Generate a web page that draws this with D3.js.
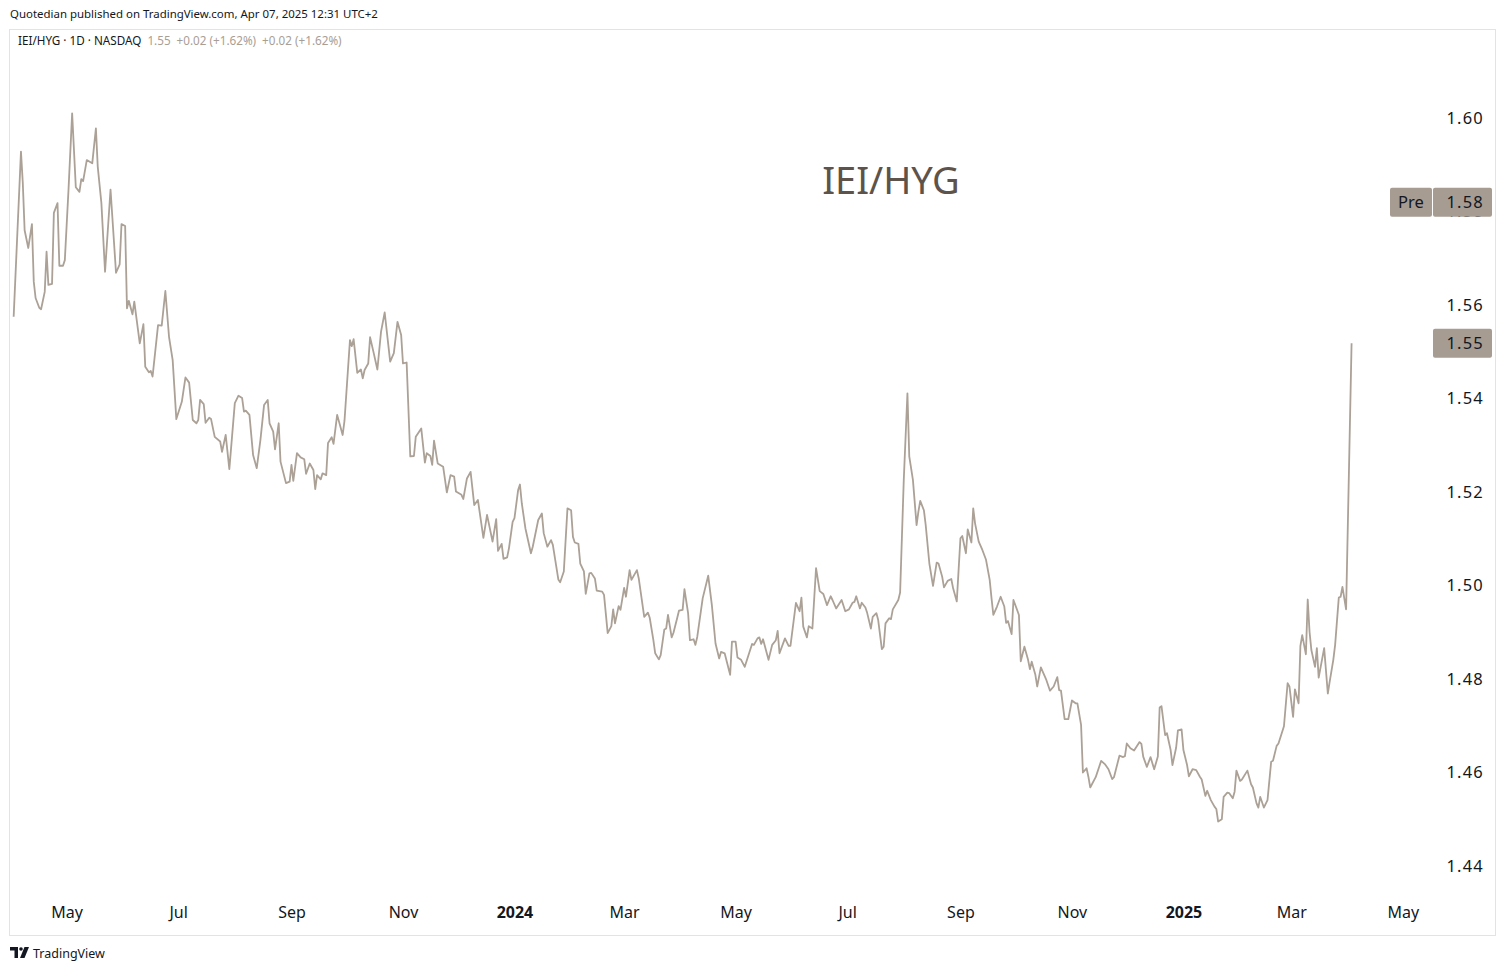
<!DOCTYPE html>
<html><head><meta charset="utf-8">
<script src="https://cdn.jsdelivr.net/npm/d3@7"></script>
<style>
html,body{margin:0;padding:0;background:#fff;}
svg{display:block;font-family:"Noto Sans","Open Sans",sans-serif;}
</style></head><body>
<svg id="c" width="1506" height="971"></svg>
<script>
const series = [
["2023-04-02",1.5575],["2023-04-06",1.5928],["2023-04-07",1.5861],["2023-04-08",1.5760],["2023-04-10",1.5722],["2023-04-12",1.5773],["2023-04-13",1.5650],["2023-04-14",1.5615],["2023-04-16",1.5594],["2023-04-17",1.5591],["2023-04-19",1.5628],["2023-04-20",1.5714],["2023-04-21",1.5643],["2023-04-23",1.5645],["2023-04-24",1.5797],["2023-04-26",1.5818],["2023-04-27",1.5684],["2023-04-29",1.5684],["2023-04-30",1.5696],
["2023-05-02",1.5846],["2023-05-04",1.6010],["2023-05-06",1.5852],["2023-05-08",1.5842],["2023-05-09",1.5869],["2023-05-10",1.5865],["2023-05-12",1.5910],["2023-05-15",1.5903],["2023-05-17",1.5978],["2023-05-18",1.5896],["2023-05-20",1.5818],["2023-05-22",1.5671],["2023-05-25",1.5847],["2023-05-28",1.5669],["2023-05-30",1.5687],["2023-05-31",1.5773],
["2023-06-02",1.5769],["2023-06-03",1.5593],["2023-06-04",1.5609],["2023-06-06",1.5580],["2023-06-07",1.5607],["2023-06-10",1.5518],["2023-06-12",1.5559],["2023-06-13",1.5468],["2023-06-15",1.5456],["2023-06-16",1.5459],["2023-06-17",1.5447],["2023-06-20",1.5557],["2023-06-22",1.5556],["2023-06-24",1.5630],["2023-06-26",1.5532],["2023-06-28",1.5482],["2023-06-30",1.5356],
["2023-07-03",1.5393],["2023-07-05",1.5445],["2023-07-07",1.5434],["2023-07-09",1.5354],["2023-07-11",1.5347],["2023-07-12",1.5354],["2023-07-13",1.5397],["2023-07-15",1.5388],["2023-07-16",1.5348],["2023-07-18",1.5359],["2023-07-19",1.5356],["2023-07-21",1.5318],["2023-07-24",1.5308],["2023-07-25",1.5286],["2023-07-27",1.5322],["2023-07-29",1.5249],
["2023-08-01",1.5390],["2023-08-03",1.5406],["2023-08-05",1.5401],["2023-08-06",1.5372],["2023-08-07",1.5374],["2023-08-09",1.5365],["2023-08-11",1.5279],["2023-08-13",1.5251],["2023-08-15",1.5311],["2023-08-17",1.5386],["2023-08-19",1.5397],["2023-08-20",1.5347],["2023-08-22",1.5329],["2023-08-23",1.5291],["2023-08-25",1.5347],["2023-08-26",1.5265],["2023-08-29",1.5219],["2023-08-31",1.5222],
["2023-09-01",1.5258],["2023-09-02",1.5224],["2023-09-04",1.5283],["2023-09-06",1.5274],["2023-09-08",1.5270],["2023-09-09",1.5239],["2023-09-11",1.5261],["2023-09-13",1.5247],["2023-09-14",1.5206],["2023-09-15",1.5236],["2023-09-17",1.5227],["2023-09-18",1.5240],["2023-09-20",1.5236],["2023-09-21",1.5305],["2023-09-23",1.5317],["2023-09-24",1.5303],["2023-09-26",1.5365],["2023-09-29",1.5322],["2023-09-30",1.5352],
["2023-10-03",1.5525],["2023-10-04",1.5512],["2023-10-05",1.5527],["2023-10-07",1.5455],["2023-10-09",1.5462],["2023-10-10",1.5443],["2023-10-11",1.5461],["2023-10-13",1.5475],["2023-10-14",1.5531],["2023-10-16",1.5497],["2023-10-18",1.5462],["2023-10-20",1.5543],["2023-10-22",1.5584],["2023-10-25",1.5479],["2023-10-27",1.5497],["2023-10-29",1.5564],["2023-10-31",1.5536],
["2023-11-01",1.5475],["2023-11-03",1.5477],["2023-11-05",1.5276],["2023-11-07",1.5277],["2023-11-08",1.5318],["2023-11-11",1.5336],["2023-11-13",1.5263],["2023-11-14",1.5283],["2023-11-16",1.5277],["2023-11-17",1.5258],["2023-11-18",1.5310],["2023-11-20",1.5261],["2023-11-23",1.5254],["2023-11-25",1.5199],["2023-11-27",1.5236],["2023-11-29",1.5233],["2023-11-30",1.5201],
["2023-12-03",1.5194],["2023-12-04",1.5185],["2023-12-06",1.5229],["2023-12-08",1.5243],["2023-12-10",1.5172],["2023-12-12",1.5183],["2023-12-15",1.5102],["2023-12-17",1.5151],["2023-12-20",1.5094],["2023-12-22",1.5142],["2023-12-23",1.5074],["2023-12-25",1.5089],["2023-12-26",1.5057],["2023-12-28",1.5060],["2023-12-29",1.5080],["2023-12-31",1.5136],
["2024-01-01",1.5144],["2024-01-03",1.5204],["2024-01-04",1.5216],["2024-01-05",1.5176],["2024-01-07",1.5122],["2024-01-10",1.5069],["2024-01-11",1.5083],["2024-01-14",1.5140],["2024-01-16",1.5154],["2024-01-17",1.5112],["2024-01-19",1.5083],["2024-01-21",1.5097],["2024-01-22",1.5087],["2024-01-25",1.5013],["2024-01-26",1.5007],["2024-01-28",1.5030],["2024-01-30",1.5165],
["2024-02-01",1.5161],["2024-02-02",1.5104],["2024-02-03",1.5092],["2024-02-05",1.5089],["2024-02-06",1.5047],["2024-02-08",1.5030],["2024-02-09",1.4982],["2024-02-11",1.5026],["2024-02-12",1.5027],["2024-02-14",1.5015],["2024-02-15",1.4989],["2024-02-18",1.4987],["2024-02-19",1.4980],["2024-02-21",1.4898],["2024-02-23",1.4913],["2024-02-24",1.4949],["2024-02-25",1.4919],["2024-02-27",1.4956],["2024-02-28",1.4948],
["2024-03-01",1.4995],["2024-03-02",1.4976],["2024-03-04",1.5033],["2024-03-05",1.5012],["2024-03-08",1.5033],["2024-03-09",1.5015],["2024-03-12",1.4933],["2024-03-14",1.4942],["2024-03-15",1.4931],["2024-03-17",1.4883],["2024-03-18",1.4855],["2024-03-20",1.4842],["2024-03-21",1.4851],["2024-03-23",1.4906],["2024-03-24",1.4908],["2024-03-25",1.4937],["2024-03-27",1.4889],["2024-03-28",1.4899],["2024-03-30",1.4930],["2024-03-31",1.4946],
["2024-04-02",1.4948],["2024-04-03",1.4992],["2024-04-05",1.4941],["2024-04-06",1.4883],["2024-04-08",1.4885],["2024-04-09",1.4873],["2024-04-10",1.4890],["2024-04-13",1.4973],["2024-04-16",1.5021],["2024-04-18",1.4958],["2024-04-20",1.4876],["2024-04-22",1.4844],["2024-04-23",1.4858],["2024-04-25",1.4855],["2024-04-28",1.4809],["2024-04-29",1.4880],
["2024-05-01",1.4880],["2024-05-02",1.4846],["2024-05-04",1.4841],["2024-05-06",1.4826],["2024-05-10",1.4875],["2024-05-11",1.4873],["2024-05-13",1.4887],["2024-05-14",1.4889],["2024-05-15",1.4875],["2024-05-16",1.4885],["2024-05-19",1.4841],["2024-05-21",1.4873],["2024-05-23",1.4883],["2024-05-24",1.4903],["2024-05-25",1.4855],["2024-05-28",1.4887],["2024-05-30",1.4871],["2024-05-31",1.4871],
["2024-06-03",1.4963],["2024-06-05",1.4945],["2024-06-06",1.4974],["2024-06-07",1.4912],["2024-06-09",1.4889],["2024-06-10",1.4913],["2024-06-12",1.4908],["2024-06-14",1.5037],["2024-06-16",1.4988],["2024-06-18",1.4982],["2024-06-20",1.4958],["2024-06-22",1.4977],["2024-06-23",1.4969],["2024-06-25",1.4951],["2024-06-28",1.4969],["2024-06-30",1.4945],
["2024-07-02",1.4949],["2024-07-04",1.4963],["2024-07-05",1.4965],["2024-07-06",1.4977],["2024-07-08",1.4951],["2024-07-09",1.4963],["2024-07-11",1.4953],["2024-07-12",1.4941],["2024-07-14",1.4908],["2024-07-15",1.4933],["2024-07-17",1.4941],["2024-07-18",1.4926],["2024-07-20",1.4864],["2024-07-21",1.4869],["2024-07-22",1.4919],["2024-07-24",1.4930],["2024-07-25",1.4928],["2024-07-26",1.4949],["2024-07-29",1.4969],["2024-07-30",1.4985],
["2024-08-01",1.5226],["2024-08-03",1.5411],["2024-08-04",1.5276],["2024-08-06",1.5226],["2024-08-08",1.5129],["2024-08-09",1.5158],["2024-08-10",1.5181],["2024-08-12",1.5161],["2024-08-13",1.5129],["2024-08-15",1.5047],["2024-08-17",1.4999],["2024-08-19",1.5049],["2024-08-20",1.5047],["2024-08-22",1.5019],["2024-08-23",1.4996],["2024-08-25",1.5010],["2024-08-27",1.5014],["2024-08-28",1.4994],["2024-08-30",1.4966],
["2024-09-01",1.5101],["2024-09-02",1.5106],["2024-09-04",1.5069],["2024-09-05",1.5120],["2024-09-07",1.5092],["2024-09-08",1.5165],["2024-09-09",1.5133],["2024-09-11",1.5094],["2024-09-13",1.5076],["2024-09-15",1.5055],["2024-09-17",1.5012],["2024-09-18",1.4973],["2024-09-19",1.4937],["2024-09-21",1.4955],["2024-09-23",1.4976],["2024-09-25",1.4955],["2024-09-26",1.4920],["2024-09-27",1.4924],["2024-09-29",1.4896],["2024-09-30",1.4969],
["2024-10-03",1.4937],["2024-10-04",1.4838],["2024-10-06",1.4869],["2024-10-08",1.4841],["2024-10-09",1.4821],["2024-10-10",1.4837],["2024-10-12",1.4809],["2024-10-13",1.4784],["2024-10-15",1.4825],["2024-10-18",1.4798],["2024-10-20",1.4775],["2024-10-22",1.4784],["2024-10-24",1.4804],["2024-10-25",1.4776],["2024-10-26",1.4775],["2024-10-28",1.4714],["2024-10-30",1.4714],
["2024-11-01",1.4754],["2024-11-03",1.4748],["2024-11-04",1.4748],["2024-11-06",1.4702],["2024-11-07",1.4600],["2024-11-09",1.4609],["2024-11-10",1.4591],["2024-11-11",1.4568],["2024-11-14",1.4590],["2024-11-17",1.4625],["2024-11-19",1.4618],["2024-11-21",1.4607],["2024-11-23",1.4586],["2024-11-24",1.4590],["2024-11-27",1.4636],["2024-11-29",1.4633],["2024-11-30",1.4635],
["2024-12-01",1.4662],["2024-12-03",1.4652],["2024-12-05",1.4647],["2024-12-08",1.4665],["2024-12-09",1.4661],["2024-12-10",1.4634],["2024-12-12",1.4612],["2024-12-14",1.4633],["2024-12-16",1.4607],["2024-12-18",1.4634],["2024-12-19",1.4739],["2024-12-20",1.4742],["2024-12-22",1.4680],["2024-12-23",1.4684],["2024-12-25",1.4648],["2024-12-26",1.4616],["2024-12-28",1.4653],["2024-12-29",1.4690],["2024-12-31",1.4692],
["2025-01-01",1.4648],["2025-01-03",1.4616],["2025-01-04",1.4592],["2025-01-06",1.4607],["2025-01-08",1.4605],["2025-01-10",1.4591],["2025-01-11",1.4585],["2025-01-13",1.4550],["2025-01-14",1.4561],["2025-01-16",1.4541],["2025-01-18",1.4527],["2025-01-19",1.4522],["2025-01-20",1.4495],["2025-01-22",1.4500],["2025-01-23",1.4548],["2025-01-25",1.4557],["2025-01-26",1.4556],["2025-01-28",1.4545],["2025-01-29",1.4559],["2025-01-30",1.4604],
["2025-02-01",1.4582],["2025-02-02",1.4585],["2025-02-05",1.4604],["2025-02-07",1.4575],["2025-02-08",1.4568],["2025-02-10",1.4534],["2025-02-11",1.4525],["2025-02-12",1.4548],["2025-02-14",1.4525],["2025-02-16",1.4541],["2025-02-18",1.4623],["2025-02-19",1.4625],["2025-02-21",1.4657],["2025-02-22",1.4662],["2025-02-25",1.4699],["2025-02-27",1.4791],["2025-02-28",1.4784],
["2025-03-02",1.4719],["2025-03-03",1.4778],["2025-03-05",1.4748],["2025-03-06",1.4871],["2025-03-07",1.4894],["2025-03-09",1.4853],["2025-03-10",1.4970],["2025-03-11",1.4901],["2025-03-12",1.4862],["2025-03-14",1.4826],["2025-03-15",1.4866],["2025-03-16",1.4803],["2025-03-19",1.4866],["2025-03-21",1.4769],["2025-03-22",1.4794],["2025-03-24",1.4841],["2025-03-25",1.4873],["2025-03-27",1.4974],["2025-03-28",1.4976],["2025-03-29",1.4997],["2025-03-31",1.4949],
["2025-04-03",1.5518]
];
const yTicks = [1.44,1.46,1.48,1.50,1.52,1.54,1.56,1.58,1.60];
const xTickDates = ["2023-05-01","2023-07-01","2023-09-01","2023-11-01","2024-01-01","2024-03-01","2024-05-01","2024-07-01","2024-09-01","2024-11-01","2025-01-01","2025-03-01","2025-05-01"];
const xDomain = ["2023-03-31","2025-05-17"];
const yDomain = [1.44,1.60];
const titleText = "IEI/HYG";
const headerText = "Quotedian published on TradingView.com, Apr 07, 2025 12:31 UTC+2";
const legendMain = "IEI/HYG · 1D · NASDAQ";
const legendVals = ["1.55","+0.02 (+1.62%)","+0.02 (+1.62%)"];
const prePrice = 1.582;

const lineColor = "#aba196", boxColor = "#a69c92", textColor = "#131722";
const svg = d3.select("#c");
const parse = d3.utcParse("%Y-%m-%d");
const data = series.map(([d,v]) => ({date: parse(d), value: v}));
const plot = {left: 10, right: 1432, top: 30, bottom: 890};
const x = d3.scaleUtc().domain(xDomain.map(parse)).range([plot.left, plot.right]);
const y = d3.scaleLinear().domain(yDomain).range([866, 118]);

svg.append("rect").attr("width",1506).attr("height",971).attr("fill","#fff");
// frame
svg.append("rect").attr("x",9.5).attr("y",29.5).attr("width",1486).attr("height",906)
  .attr("fill","none").attr("stroke","#e0e3eb").attr("stroke-width",1);

// header
svg.append("text").attr("x",10).attr("y",18).attr("font-size",11.45).attr("fill",textColor).text(headerText);
const lg = svg.append("text").attr("x",18).attr("y",45).attr("font-size",11.7).attr("fill",textColor);
lg.append("tspan").text(legendMain);
legendVals.forEach(t => lg.append("tspan").attr("dx",6).attr("fill","#a89e94").text(t));

// clip
svg.append("clipPath").attr("id","clip").append("rect")
  .attr("x",plot.left).attr("y",plot.top).attr("width",plot.right-plot.left).attr("height",plot.bottom-plot.top);

// title
svg.append("text").attr("x",891).attr("y",194).attr("text-anchor","middle")
  .attr("font-size",38).attr("fill","#5d534b").text(titleText);

// line
const line = d3.line().x(d => x(d.date)).y(d => y(d.value));
svg.append("path").datum(data).attr("clip-path","url(#clip)")
  .attr("fill","none").attr("stroke",lineColor).attr("stroke-width",1.8)
  .attr("stroke-linejoin","round").attr("d",line);

// y axis
const yAxis = svg.append("g").attr("transform",`translate(${plot.right},0)`)
  .call(d3.axisRight(y).tickValues(yTicks).tickSize(0).tickFormat(d3.format(".2f")));
yAxis.select(".domain").remove();
yAxis.selectAll("text").attr("x",52).attr("text-anchor","end")
  .attr("font-size",16.5).attr("letter-spacing",1.2).attr("fill",textColor).attr("font-family","Noto Sans, sans-serif");

// x axis
const fmtMonth = d3.utcFormat("%b"), fmtYear = d3.utcFormat("%Y");
const xAxis = svg.append("g").attr("transform","translate(0,912)")
  .call(d3.axisBottom(x).tickValues(xTickDates.map(parse)).tickSize(0)
    .tickFormat(d => d.getUTCMonth() === 0 ? fmtYear(d) : fmtMonth(d)));
xAxis.select(".domain").remove();
xAxis.selectAll("text").attr("y",0).attr("dy","0.35em")
  .attr("font-size",16).attr("fill",textColor).attr("font-family","Noto Sans, sans-serif")
  .attr("font-weight", d => d.getUTCMonth() === 0 ? "bold" : "normal");

// price labels
function priceBox(val, label, pre) {
  const cy = y(val);
  const g = svg.append("g");
  if (pre) {
    g.append("rect").attr("x",1390).attr("y",cy-14.5).attr("width",42).attr("height",29).attr("rx",2).attr("fill",boxColor);
    g.append("text").attr("x",1411).attr("y",cy).attr("dy","0.35em").attr("text-anchor","middle")
      .attr("font-size",16.5).attr("fill",textColor).text("Pre");
  }
  g.append("rect").attr("x",1433).attr("y",cy-14.5).attr("width",59).attr("height",29).attr("rx",2).attr("fill",boxColor);
  g.append("text").attr("x",1484).attr("y",cy).attr("dy","0.35em").attr("text-anchor","end")
    .attr("font-size",16.5).attr("letter-spacing",1.2).attr("fill",textColor).text(label);
}
priceBox(prePrice, d3.format(".2f")(prePrice), true);
const last = data[data.length-1];
priceBox(last.value, d3.format(".2f")(last.value), false);

// TradingView logo
const logo = svg.append("g").attr("fill",textColor);
logo.append("path").attr("d","M10,947 h8 v11 h-3.5 v-7.5 h-4.5 z");
logo.append("circle").attr("cx",21).attr("cy",949).attr("r",1.8);
logo.append("path").attr("d","M24.5,947 h4.5 l-4.5,11 h-4.5 z");
svg.append("text").attr("x",33).attr("y",958).attr("font-size",12.5).attr("fill",textColor).text("TradingView");
</script>
</body></html>
